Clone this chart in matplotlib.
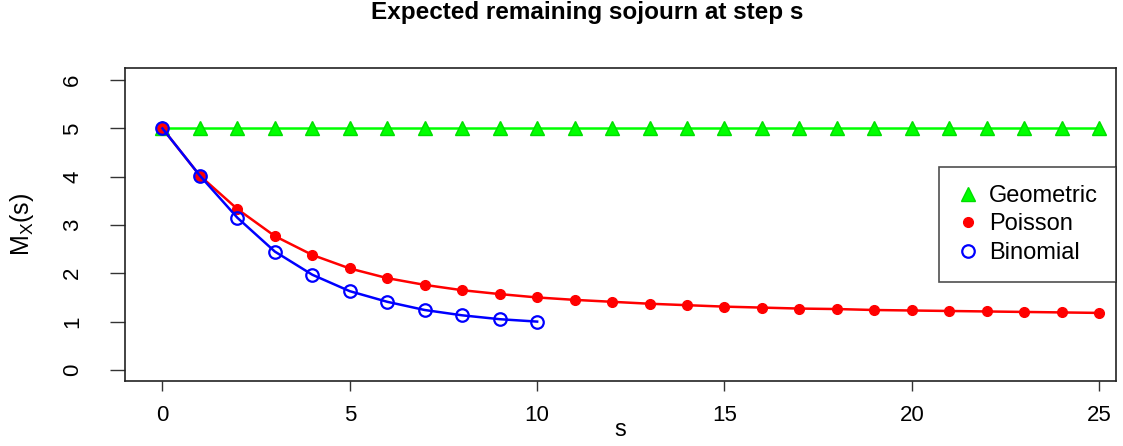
import matplotlib.pyplot as plt
import numpy as np

plt.rcParams['font.family'] = ['Liberation Sans', 'DejaVu Sans']

# steps and expected remaining sojourn for each distribution
steps_geo = list(range(0, 26))
geometric = [5.0] * 26

steps_poi = list(range(0, 26))
poisson = [5.00, 4.02, 3.33, 2.77, 2.38, 2.10, 1.90, 1.76, 1.65, 1.57, 1.50,
           1.45, 1.41, 1.37, 1.34, 1.31, 1.29, 1.27, 1.26, 1.24, 1.23, 1.22,
           1.21, 1.20, 1.19, 1.18]

steps_bin = list(range(0, 11))
binomial = [5.00, 4.02, 3.15, 2.45, 1.97, 1.63, 1.41, 1.24, 1.13, 1.05, 1.00]

fig = plt.figure(figsize=(11.23, 4.46), dpi=100)
ax = fig.add_axes([0.1113, 0.1457, 0.8825, 0.7018])

ax.plot(steps_geo, geometric, color='#00FF00', lw=1.8, marker='^', ms=10,
        markeredgecolor='#00DD00', label='Geometric', zorder=2)
ax.plot(steps_poi, poisson, color='#FF0000', lw=1.8, marker='o', ms=7,
        label='Poisson', zorder=3)
ax.plot(steps_bin, binomial, color='#0000FF', lw=1.8, marker='o', ms=9,
        markerfacecolor='none', markeredgewidth=1.6, label='Binomial', zorder=4)

ax.set_xlim(-1.0, 25.45)
ax.set_ylim(-0.23, 6.25)
ax.set_xticks([0, 5, 10, 15, 20, 25])
ax.set_yticks([0, 1, 2, 3, 4, 5, 6])
ax.tick_params(axis='x', labelsize=16, length=7, width=1, color='#333333', pad=10)
ax.tick_params(axis='y', labelsize=16, length=11, width=1, color='#333333', pad=19)
for lab in ax.get_yticklabels():
    lab.set_rotation(90)
    lab.set_va('center')
for sp in ax.spines.values():
    sp.set_linewidth(1.2)
    sp.set_color('#222222')

ax.set_xlabel('s', fontsize=17)
ax.xaxis.set_label_coords(0.5, -0.157)
ax.xaxis.label.set_va('center')
ax.set_ylabel(r'M$_\mathregular{X}$(s)', fontsize=18)
ax.yaxis.set_label_coords(-0.104, 0.5)
ax.yaxis.label.set_va('center')

fig.text(587 / 1123, 1 - 13 / 446, 'Expected remaining sojourn at step s',
         ha='center', va='center', fontsize=17.5, fontweight='bold')

# legend with markers only, like R's legend(pch=...)
handles, labels = ax.get_legend_handles_labels()
leg_handles = []
for h in handles:
    hh = plt.Line2D([], [], linestyle='none', marker=h.get_marker(),
                    color=h.get_color(), markerfacecolor=h.get_markerfacecolor(),
                    markeredgecolor=h.get_markeredgecolor(),
                    markeredgewidth=h.get_markeredgewidth(), ms=h.get_markersize())
    leg_handles.append(hh)
leg = ax.legend(leg_handles, labels, loc='upper right', bbox_to_anchor=(1.0, 0.684),
                borderaxespad=0, fontsize=17, frameon=True, fancybox=False,
                handletextpad=0.4, handlelength=1.0, labelspacing=0.28,
                borderpad=0.75, handleheight=0.6)
leg.get_frame().set_edgecolor('#222222')
leg.get_frame().set_linewidth(1.2)

fig.savefig('out.png', dpi=100)
